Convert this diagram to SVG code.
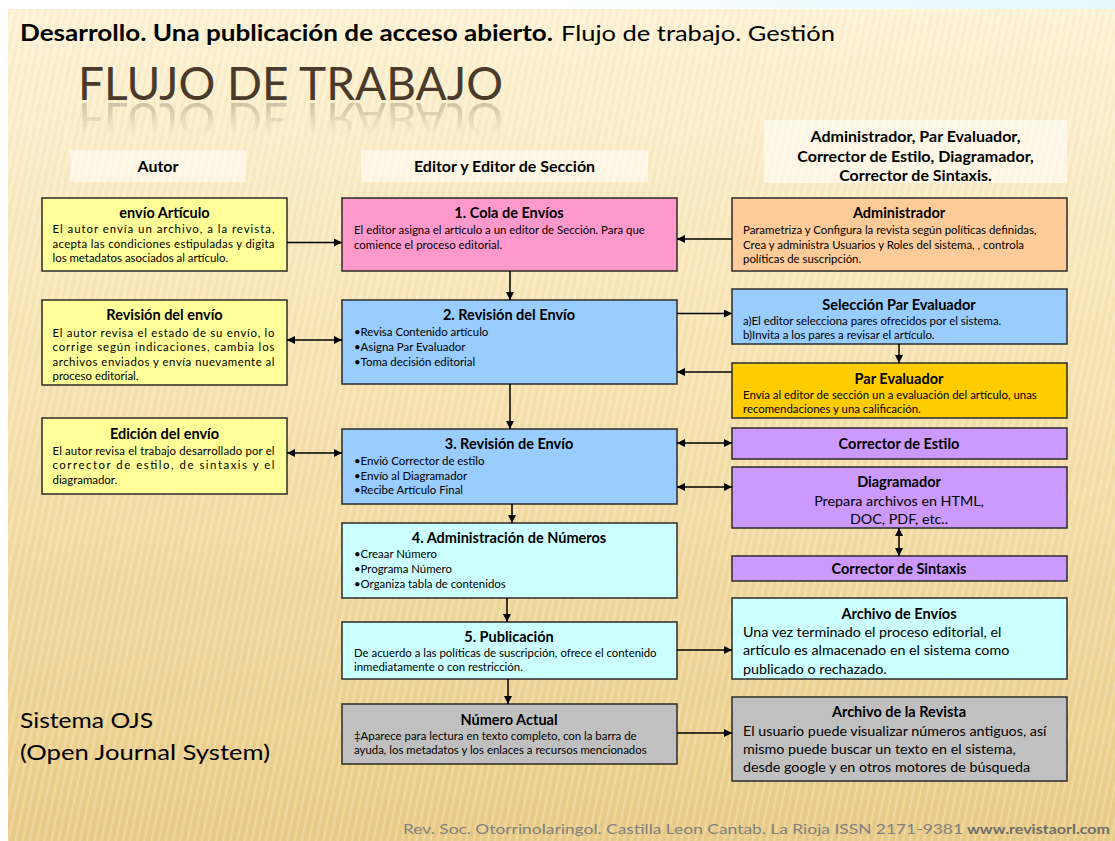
<svg xmlns="http://www.w3.org/2000/svg" width="1115" height="841" viewBox="0 0 1115 841">
<defs>
<linearGradient id="bg" x1="0" y1="0" x2="0" y2="1">
<stop offset="0" stop-color="#fcf2d4"/>
<stop offset="0.25" stop-color="#f9e9bf"/>
<stop offset="0.6" stop-color="#f3dca4"/>
<stop offset="1" stop-color="#e8cb86"/>
</linearGradient>
<linearGradient id="topband" x1="0" y1="0" x2="1" y2="0">
<stop offset="0" stop-color="#ffffff"/>
<stop offset="0.5" stop-color="#eefaff"/>
<stop offset="1" stop-color="#e6f7fb"/>
</linearGradient>
<pattern id="stripes" width="7" height="40" patternUnits="userSpaceOnUse" patternTransform="rotate(12)">
<rect x="0" y="0" width="2" height="40" fill="#ffffff" opacity="0.22"/>
<rect x="4" y="0" width="1" height="40" fill="#c9a55a" opacity="0.08"/>
</pattern>
<linearGradient id="reflGrad" x1="0" y1="102" x2="0" y2="134" gradientUnits="userSpaceOnUse">
<stop offset="0" stop-color="#fff" stop-opacity="0.25"/>
<stop offset="1" stop-color="#fff" stop-opacity="0"/>
</linearGradient>
<mask id="reflMask" maskUnits="userSpaceOnUse" x="0" y="100" width="1115" height="45">
<rect x="0" y="100" width="1115" height="45" fill="url(#reflGrad)"/>
</mask>
<marker id="ah" viewBox="0 0 10 10" refX="10" refY="5" markerWidth="9" markerHeight="8" markerUnits="userSpaceOnUse" orient="auto-start-reverse">
<path d="M0,0 L10,5 L0,10 z" fill="#000"/>
</marker>
<style>
.box{stroke:#2b2b2b;stroke-width:1.5}
.yel{fill:#ffff99}.pnk{fill:#ff99cc}.blu{fill:#99ccff}.org{fill:#ffcc99}.gld{fill:#ffcc00}.pur{fill:#cc99ff}.cya{fill:#ccffff}.gry{fill:#c0c0c0}
.hd{fill:#ffffff;opacity:0.55}
text{font-family:Lato,"Open Sans","Liberation Sans",sans-serif;fill:#000}
.t{font-weight:bold;font-size:14.5px;text-anchor:middle}
.b{font-size:11.4px}
.bl{font-size:14.3px}
.h{font-weight:bold;font-size:16px;text-anchor:middle}
.c{stroke:#000;stroke-width:1.5;fill:none}
.big{font-size:46px;font-weight:normal;fill:#4a3a2c}
</style>
</defs>

<!-- background -->
<rect x="0" y="0" width="1115" height="841" fill="#ffffff"/>
<rect x="560" y="0" width="555" height="9" fill="url(#topband)"/>
<rect x="8" y="9" width="1107" height="832" fill="url(#bg)"/>
<rect x="8" y="9" width="1107" height="832" fill="url(#stripes)"/>

<!-- titles -->
<g id="title">
<text x="20" y="40.5" font-size="22" font-weight="bold" textLength="533" lengthAdjust="spacingAndGlyphs">Desarrollo. Una publicación de acceso abierto.</text>
<text x="561" y="40.5" font-size="22" textLength="274" lengthAdjust="spacingAndGlyphs">Flujo de trabajo. Gestión</text>
<text class="big" x="78" y="100" textLength="425" lengthAdjust="spacingAndGlyphs">FLUJO DE TRABAJO</text>
<g mask="url(#reflMask)">
<text class="big" x="78" y="100" textLength="425" lengthAdjust="spacingAndGlyphs" transform="matrix(1,0,0,-1,0,203)">FLUJO DE TRABAJO</text>
</g>
</g>

<!-- column headers -->
<g id="hdr-autor">
<rect class="hd" x="70" y="150" width="176" height="32"/>
<text class="h" x="158" y="172">Autor</text>
</g>
<g id="hdr-editor">
<rect class="hd" x="361" y="150" width="287" height="32"/>
<text class="h" x="504.5" y="172">Editor y Editor  de Sección</text>
</g>
<g id="hdr-roles">
<rect class="hd" x="764" y="120" width="303" height="63"/>
<text class="h" x="915.5" y="142">Administrador, Par Evaluador,</text>
<text class="h" x="915.5" y="162">Corrector de Estilo, Diagramador,</text>
<text class="h" x="915.5" y="181">Corrector de Sintaxis.</text>
</g>

<!-- left column -->
<g id="envio-articulo">
<rect class="box yel" x="42" y="198" width="245" height="73"/>
<text class="t" x="164.5" y="218">envío Artículo</text>
<text class="b" x="52.5" y="233" textLength="222">El autor envía un archivo, a la revista,</text>
<text class="b" x="52.5" y="247.5" textLength="222">acepta las condiciones estipuladas y digita</text>
<text class="b" x="52.5" y="262">los metadatos asociados al artículo.</text>
</g>
<g id="revision-envio-autor">
<rect class="box yel" x="42" y="300" width="245" height="85"/>
<text class="t" x="164.5" y="320">Revisión del envío</text>
<text class="b" x="52.5" y="336.5" textLength="222">El autor revisa el estado de su envío, lo</text>
<text class="b" x="52.5" y="351" textLength="222">corrige según indicaciones, cambia los</text>
<text class="b" x="52.5" y="365.5" textLength="222">archivos enviados y envía nuevamente al</text>
<text class="b" x="52.5" y="380">proceso editorial.</text>
</g>
<g id="edicion-envio">
<rect class="box yel" x="42" y="418" width="245" height="76"/>
<text class="t" x="164.5" y="438.5">Edición del envío</text>
<text class="b" x="52.5" y="454.5" textLength="222">El autor revisa el trabajo desarrollado por el</text>
<text class="b" x="52.5" y="469" textLength="222">corrector de estilo, de sintaxis y el</text>
<text class="b" x="52.5" y="484">diagramador.</text>
</g>

<!-- center column -->
<g id="cola-envios">
<rect class="box pnk" x="342" y="198" width="335" height="73"/>
<text class="t" x="509" y="218">1. Cola de Envíos</text>
<text class="b" x="354" y="234">El editor asigna el artículo a un editor de Sección. Para que</text>
<text class="b" x="354" y="248.5">comience el proceso editorial.</text>
</g>
<g id="revision-del-envio">
<rect class="box blu" x="342" y="300" width="335" height="84"/>
<text class="t" x="509" y="320">2. Revisión del Envío</text>
<text class="b" x="354" y="335.5">•Revisa Contenido artículo</text>
<text class="b" x="354" y="350.5">•Asigna Par Evaluador</text>
<text class="b" x="354" y="365.5">•Toma decisión editorial</text>
</g>
<g id="revision-de-envio">
<rect class="box blu" x="342" y="429" width="335" height="75"/>
<text class="t" x="509" y="449">3. Revisión de Envío</text>
<text class="b" x="354" y="465">•Envió Corrector de estilo</text>
<text class="b" x="354" y="479.5">•Envío al Diagramador</text>
<text class="b" x="354" y="494">•Recibe Artículo Final</text>
</g>
<g id="administracion-numeros">
<rect class="box cya" x="342" y="523" width="335" height="75"/>
<text class="t" x="509" y="542.5">4. Administración de Números</text>
<text class="b" x="354" y="557.5">•Creaar Número</text>
<text class="b" x="354" y="572.5">•Programa Número</text>
<text class="b" x="354" y="587.5">•Organiza tabla de contenidos</text>
</g>
<g id="publicacion">
<rect class="box cya" x="342" y="622" width="335" height="57"/>
<text class="t" x="509" y="641.5">5. Publicación</text>
<text class="b" x="354" y="656.5">De acuerdo a las políticas de suscripción, ofrece el contenido</text>
<text class="b" x="354" y="671">inmediatamente o con restricción.</text>
</g>
<g id="numero-actual">
<rect class="box gry" x="342" y="704" width="335" height="60"/>
<text class="t" x="509" y="725">Número Actual</text>
<text class="b" x="354" y="739.5">‡Aparece para lectura en texto completo, con la barra de</text>
<text class="b" x="354" y="754">ayuda, los metadatos y los enlaces a recursos mencionados</text>
</g>

<!-- right column -->
<g id="administrador">
<rect class="box org" x="732" y="198" width="335" height="73"/>
<text class="t" x="899" y="218">Administrador</text>
<text class="b" x="743" y="234">Parametriza y Configura la revista según políticas definidas,</text>
<text class="b" x="743" y="248.5">Crea y administra Usuarios y Roles del sistema, , controla</text>
<text class="b" x="743" y="263">políticas de suscripción.</text>
</g>
<g id="seleccion-par">
<rect class="box blu" x="732" y="289" width="335" height="55"/>
<text class="t" x="899" y="310">Selección Par Evaluador</text>
<text class="b" x="743" y="324.5">a)El editor selecciona pares ofrecidos por el sistema.</text>
<text class="b" x="743" y="339">b)Invita a los pares a revisar el artículo.</text>
</g>
<g id="par-evaluador">
<rect class="box gld" x="732" y="363" width="335" height="55"/>
<text class="t" x="899" y="384">Par Evaluador</text>
<text class="b" x="743" y="398.5">Envía al editor de sección un a evaluación del artículo, unas</text>
<text class="b" x="743" y="413">recomendaciones y una calificación.</text>
</g>
<g id="corrector-estilo">
<rect class="box pur" x="732" y="428" width="335" height="31"/>
<text class="t" x="899" y="448.5">Corrector de Estilo</text>
</g>
<g id="diagramador">
<rect class="box pur" x="732" y="467" width="335" height="61"/>
<text class="t" x="899" y="487">Diagramador</text>
<text class="bl" x="899" y="506" text-anchor="middle">Prepara archivos en HTML,</text>
<text class="bl" x="899" y="524" text-anchor="middle">DOC, PDF, etc..</text>
</g>
<g id="corrector-sintaxis">
<rect class="box pur" x="732" y="556" width="335" height="25"/>
<text class="t" x="899" y="574">Corrector de Sintaxis</text>
</g>
<g id="archivo-envios">
<rect class="box cya" x="732" y="598" width="335" height="81"/>
<text class="t" x="899" y="618.5">Archivo de Envíos</text>
<text class="bl" x="743" y="637">Una vez terminado el proceso editorial, el</text>
<text class="bl" x="743" y="655">artículo es almacenado en el sistema como</text>
<text class="bl" x="743" y="673.5">publicado o rechazado.</text>
</g>
<g id="archivo-revista">
<rect class="box gry" x="732" y="697" width="335" height="84"/>
<text class="t" x="899" y="717">Archivo de la Revista</text>
<text class="bl" x="743" y="736">El usuario puede visualizar números antiguos, así</text>
<text class="bl" x="743" y="754">mismo puede buscar un texto en el sistema,</text>
<text class="bl" x="743" y="772">desde google y en otros motores de búsqueda</text>
</g>

<!-- connectors -->
<g id="connectors">
<line class="c" x1="287" y1="242.5" x2="342" y2="242.5" marker-end="url(#ah)"/>
<line class="c" x1="287" y1="340" x2="342" y2="340" marker-start="url(#ah)" marker-end="url(#ah)"/>
<line class="c" x1="287" y1="453" x2="342" y2="453" marker-start="url(#ah)" marker-end="url(#ah)"/>
<line class="c" x1="510" y1="271" x2="510" y2="300" marker-end="url(#ah)"/>
<line class="c" x1="510" y1="384" x2="510" y2="429" marker-end="url(#ah)"/>
<line class="c" x1="512" y1="504" x2="512" y2="523" marker-end="url(#ah)"/>
<line class="c" x1="507" y1="598" x2="507" y2="622" marker-end="url(#ah)"/>
<line class="c" x1="508" y1="679" x2="508" y2="704" marker-end="url(#ah)"/>
<line class="c" x1="732" y1="239" x2="677" y2="239" marker-end="url(#ah)"/>
<line class="c" x1="677" y1="313.5" x2="732" y2="313.5" marker-end="url(#ah)"/>
<line class="c" x1="732" y1="372" x2="677" y2="372" marker-end="url(#ah)"/>
<line class="c" x1="899" y1="344" x2="899" y2="363" marker-end="url(#ah)"/>
<line class="c" x1="677" y1="443" x2="732" y2="443" marker-start="url(#ah)" marker-end="url(#ah)"/>
<line class="c" x1="677" y1="487" x2="732" y2="487" marker-start="url(#ah)" marker-end="url(#ah)"/>
<line class="c" x1="899" y1="528" x2="899" y2="556" marker-start="url(#ah)" marker-end="url(#ah)"/>
<line class="c" x1="677" y1="650" x2="732" y2="650" marker-end="url(#ah)"/>
<line class="c" x1="677" y1="733" x2="732" y2="733" marker-end="url(#ah)"/>
</g>

<!-- side label and footer -->
<g id="sistema-ojs">
<text x="20" y="728" font-size="22" textLength="133" lengthAdjust="spacingAndGlyphs">Sistema OJS</text>
<text x="20" y="760" font-size="22" textLength="250" lengthAdjust="spacingAndGlyphs">(Open Journal System)</text>
</g>
<g id="footer">
<text x="403" y="834" font-size="13" style="fill:#808080" textLength="560" lengthAdjust="spacingAndGlyphs">Rev. Soc. Otorrinolaringol. Castilla Leon Cantab. La Rioja  ISSN 2171-9381</text>
<text x="967" y="834" font-size="13" font-weight="bold" style="fill:#6e6e6e" textLength="143" lengthAdjust="spacingAndGlyphs">www.revistaorl.com</text>
</g>
</svg>
